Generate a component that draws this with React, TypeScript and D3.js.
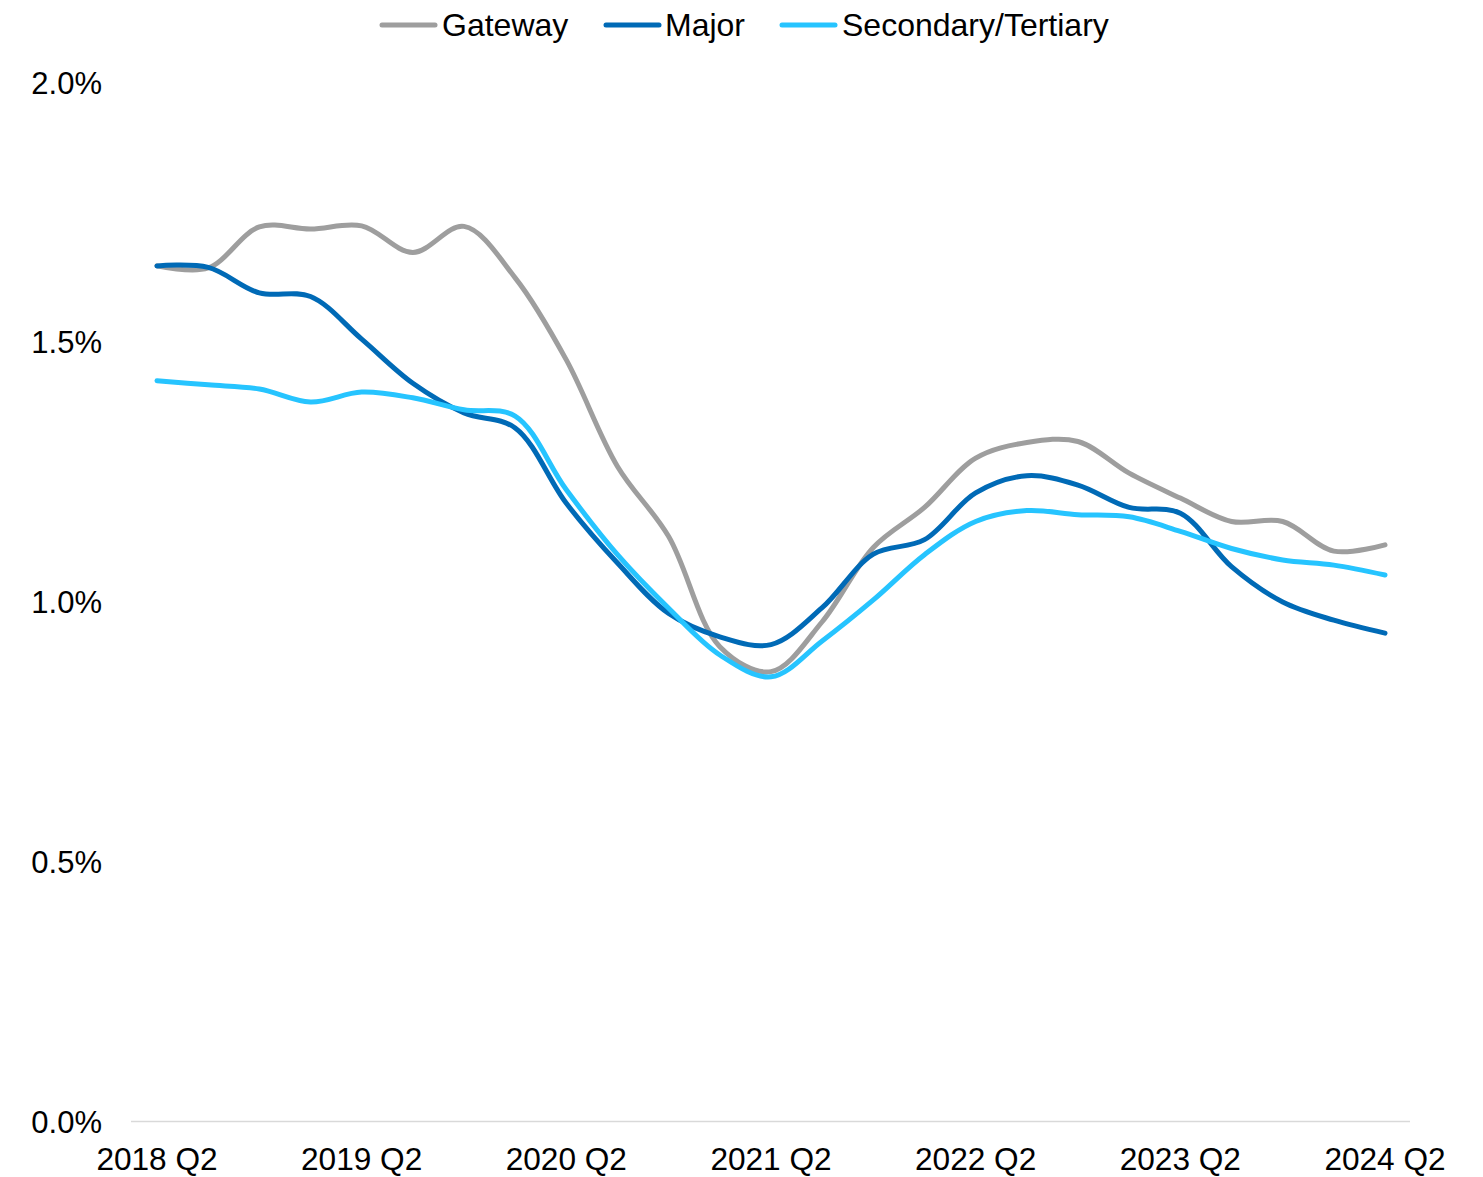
import React from "react";
import * as d3 from "d3";

const quarters = [
  "2018 Q2", "2018 Q3", "2018 Q4", "2019 Q1", "2019 Q2", "2019 Q3", "2019 Q4", "2020 Q1",
  "2020 Q2", "2020 Q3", "2020 Q4", "2021 Q1", "2021 Q2", "2021 Q3", "2021 Q4", "2022 Q1",
  "2022 Q2", "2022 Q3", "2022 Q4", "2023 Q1", "2023 Q2", "2023 Q3", "2023 Q4", "2024 Q1",
  "2024 Q2",
];

const gateway = [1.647, 1.643, 1.722, 1.718, 1.724, 1.673, 1.723, 1.624, 1.466, 1.261, 1.126, 0.914, 0.866, 0.962, 1.105, 1.182, 1.277, 1.307, 1.309, 1.248, 1.2, 1.155, 1.155, 1.098, 1.11];
const major = [1.647, 1.644, 1.595, 1.588, 1.506, 1.421, 1.364, 1.335, 1.19, 1.075, 0.978, 0.933, 0.918, 0.989, 1.092, 1.12, 1.21, 1.243, 1.225, 1.182, 1.171, 1.068, 1.0, 0.965, 0.94];
const secondary = [1.426, 1.418, 1.41, 1.385, 1.404, 1.393, 1.37, 1.358, 1.216, 1.091, 0.988, 0.898, 0.856, 0.925, 1.004, 1.091, 1.155, 1.176, 1.168, 1.164, 1.136, 1.103, 1.081, 1.071, 1.052];

const yTicks = [0, 0.5, 1.0, 1.5, 2.0];
const xTickLabels = ["2018 Q2", "2019 Q2", "2020 Q2", "2021 Q2", "2022 Q2", "2023 Q2", "2024 Q2"];

const seriesNames = ["Gateway", "Major", "Secondary/Tertiary"];
const seriesColors = ["#9E9E9E", "#006AB6", "#26C4FF"];

const W = 1483;
const H = 1177;
const FONT = "'Liberation Sans', Arial, sans-serif";

export default function App() {
  const x = d3.scalePoint<string>().domain(quarters).range([157, 1385]);
  const y = d3.scaleLinear().domain([0, 2]).range([1121.5, 82.5]);
  const seriesData = [gateway, major, secondary];
  const line = d3
    .line<number>()
    .x((_, i) => x(quarters[i]) as number)
    .y((d) => y(d))
    .curve(d3.curveCatmullRom.alpha(0.5));

  const legendItems = [
    { lineX: 382, textX: 442 },
    { lineX: 606, textX: 665 },
    { lineX: 782, textX: 842 },
  ];

  return (
    <svg width={W} height={H} style={{ position: "absolute", left: 0, top: 0, background: "#fff" }}>
      <rect x={0} y={0} width={W} height={H} fill="#fff" />
      {yTicks.map((t) => (
        <text
          key={t}
          x={102}
          y={y(t) + 11}
          textAnchor="end"
          fontFamily={FONT}
          fontSize={31}
          fill="#000"
        >
          {d3.format(".1f")(t) + "%"}
        </text>
      ))}
      <line x1={131} x2={1410} y1={y(0)} y2={y(0)} stroke="#D9D9D9" strokeWidth={1.5} />
      {xTickLabels.map((q) => (
        <text
          key={q}
          x={x(q) as number}
          y={1170}
          textAnchor="middle"
          fontFamily={FONT}
          fontSize={31.6}
          fill="#000"
        >
          {q}
        </text>
      ))}
      {seriesData.map((s, i) => (
        <path
          key={seriesNames[i]}
          d={line(s) || ""}
          fill="none"
          stroke={seriesColors[i]}
          strokeWidth={5}
          strokeLinecap="round"
          strokeLinejoin="round"
        />
      ))}
      {legendItems.map((it, i) => (
        <g key={seriesNames[i]}>
          <line
            x1={it.lineX}
            x2={it.lineX + 53}
            y1={25}
            y2={25}
            stroke={seriesColors[i]}
            strokeWidth={5}
            strokeLinecap="round"
          />
          <text x={it.textX} y={36} fontFamily={FONT} fontSize={32} fill="#000">
            {seriesNames[i]}
          </text>
        </g>
      ))}
    </svg>
  );
}
